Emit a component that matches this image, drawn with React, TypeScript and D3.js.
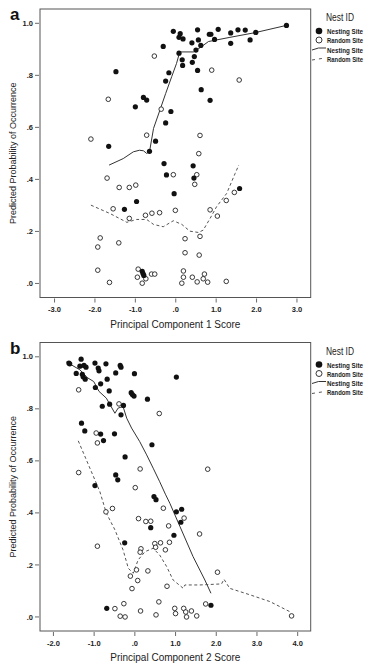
import React from "react";
import * as d3 from "d3";

type P = [number, number];

// Panel a data
const aNest: P[] = [[-0.06,0.969],[0.11,0.96],[0.08,0.946],[0.18,0.94],[-0.31,0.911],[0.08,0.885],[0.16,0.86],[0.17,0.838],[-1.48,0.814],[-0.17,0.81],[-0.25,0.778],[-0.80,0.715],[-0.72,0.705],[-1.0,0.679],[-0.12,0.661],[-0.25,0.617],[-0.50,0.547],[-1.66,0.527],[-0.65,0.508],[-0.29,0.461],[0.54,0.975],[0.40,0.925],[0.56,0.936],[0.62,0.915],[0.50,0.897],[0.83,0.958],[0.87,0.958],[1.05,0.977],[0.96,0.938],[1.36,0.963],[1.54,0.975],[1.72,0.974],[1.98,0.965],[1.36,0.923],[1.84,0.936],[2.74,0.992],[0.46,0.872],[0.41,0.85],[0.54,0.819],[0.63,0.745],[0.85,0.704],[0.43,0.452],[-0.23,0.417],[0.45,0.405],[-0.04,0.345],[-0.97,0.315],[-1.27,0.285],[1.58,0.365],[-0.83,0.047],[-0.81,0.038],[-0.79,0.031]];
const aRandom: P[] = [[-0.53,0.874],[-1.67,0.708],[-0.36,0.670],[-0.72,0.570],[-2.1,0.555],[0.89,0.82],[1.57,0.782],[0.60,0.569],[0.57,0.499],[-0.06,0.418],[-1.70,0.405],[-1.40,0.369],[-1.15,0.369],[-0.99,0.378],[-1.55,0.287],[-1.15,0.25],[-0.75,0.262],[-0.59,0.27],[-0.40,0.272],[-0.01,0.281],[-1.87,0.175],[-1.93,0.14],[-1.41,0.156],[0.23,0.172],[0.23,0.118],[-1.93,0.051],[-1.64,0.004],[-0.93,0.055],[-0.95,0.024],[-0.74,0.018],[-0.83,0.001],[-0.60,0.036],[-0.52,0.036],[0.19,0.048],[0.19,0.024],[0.15,0.001],[0.52,0.418],[0.47,0.381],[1.45,0.35],[1.25,0.319],[0.85,0.283],[1.03,0.259],[0.60,0.181],[0.58,0.109],[0.41,0.024],[0.53,0.006],[0.71,0.036],[0.68,0.018],[0.79,0.005],[1.25,0.008]];
const aNestFit: P[] = [[-1.65,0.455],[-1.3,0.48],[-1.05,0.506],[-0.9,0.512],[-0.80,0.51],[-0.72,0.50],[-0.65,0.506],[-0.55,0.596],[-0.39,0.667],[-0.25,0.73],[-0.10,0.795],[0.02,0.846],[0.09,0.885],[0.11,0.89],[0.44,0.89],[0.60,0.906],[0.81,0.93],[1.34,0.946],[1.96,0.964],[2.74,0.992]];
const aRandomFit: P[] = [[-2.10,0.301],[-1.63,0.269],[-1.21,0.235],[-0.97,0.246],[-0.72,0.246],[-0.55,0.227],[-0.31,0.218],[-0.06,0.241],[0.15,0.227],[0.35,0.201],[0.56,0.196],[0.68,0.205],[0.85,0.25],[1.01,0.295],[1.26,0.346],[1.47,0.423],[1.56,0.455]];
const aXTicks = [-3, -2, -1, 0, 1, 2, 3];

// Panel b data
const bNest: P[] = [[-1.62,0.976],[-1.60,0.973],[-1.32,0.991],[-1.35,0.964],[-1.25,0.967],[-1.20,0.96],[-1.44,0.936],[-1.29,0.933],[-1.27,0.923],[-1.22,0.914],[-0.98,0.976],[-0.90,0.957],[-0.88,0.946],[-0.71,0.973],[-0.36,0.967],[-0.34,0.96],[-0.68,0.914],[-0.84,0.896],[-0.47,0.938],[-0.01,0.935],[-0.97,0.882],[-0.63,0.869],[-0.09,0.862],[-0.06,0.855],[-0.02,0.849],[0.31,0.837],[1.02,0.922],[-0.80,0.81],[-0.62,0.818],[-0.28,0.813],[-0.34,0.777],[-1.31,0.745],[-1.23,0.715],[-0.84,0.703],[-0.77,0.678],[-0.50,0.704],[0.42,0.662],[-0.24,0.615],[-0.47,0.546],[-0.42,0.527],[-0.98,0.505],[0.47,0.463],[0.52,0.451],[1.02,0.404],[1.15,0.414],[1.13,0.364],[0.39,0.343],[0.96,0.314],[-0.25,0.285],[-0.69,0.033],[1.87,0.045]];
const bRandom: P[] = [[-1.38,0.873],[-0.39,0.819],[0.60,0.782],[-0.95,0.707],[-0.92,0.669],[-1.38,0.555],[0.13,0.569],[0.01,0.497],[1.79,0.568],[0.70,0.418],[1.21,0.38],[-0.71,0.404],[-0.55,0.417],[0.09,0.378],[0.27,0.367],[0.39,0.368],[0.83,0.35],[-0.92,0.272],[0.49,0.282],[0.51,0.268],[0.63,0.285],[0.85,0.287],[0.75,0.258],[0.15,0.262],[0.13,0.249],[0.04,0.181],[0.32,0.177],[-0.11,0.157],[0.07,0.14],[-0.07,0.109],[0.79,0.118],[1.59,0.319],[2.03,0.172],[-0.49,0.032],[-0.27,0.051],[-0.36,0.003],[-0.24,0.0],[0.14,0.023],[0.59,0.058],[0.52,0.008],[0.98,0.033],[1.0,0.013],[1.20,0.033],[1.25,0.019],[1.27,0.0],[1.39,0.023],[1.52,0.004],[1.74,0.05],[3.85,0.004]];
const bNestFit: P[] = [[-1.68,0.98],[-1.35,0.95],[-1.17,0.92],[-1.01,0.905],[-0.88,0.867],[-0.70,0.841],[-0.49,0.783],[-0.41,0.803],[-0.29,0.809],[-0.20,0.764],[-0.08,0.726],[0.12,0.674],[0.29,0.623],[0.45,0.572],[0.61,0.52],[0.75,0.472],[0.86,0.437],[1.11,0.347],[1.43,0.232],[1.72,0.142],[1.87,0.091]];
const bRandomFit: P[] = [[-1.39,0.677],[-0.86,0.482],[-0.70,0.399],[-0.49,0.335],[-0.29,0.258],[-0.16,0.187],[-0.04,0.168],[0.08,0.219],[0.25,0.251],[0.45,0.264],[0.61,0.238],[0.78,0.194],[0.94,0.142],[1.19,0.11],[1.23,0.123],[1.60,0.123],[2.13,0.127],[2.19,0.145],[2.33,0.11],[2.83,0.085],[3.32,0.059],[3.81,0.02]];
const bXTicks = [-2, -1, 0, 1, 2, 3, 4];

const yTicks = [0, 0.2, 0.4, 0.6, 0.8, 1.0];
const legendLabels = ["Nesting Site", "Random Site", "Nesting Site", "Random Site"];

const FONT = "'Liberation Sans', Arial, Helvetica, sans-serif";
const fmt = (v: number) => {
  if (Math.abs(v) < 1e-9) return ".0";
  const s = v.toFixed(1);
  return s.startsWith("0") ? s.slice(1) : s;
};

interface PanelProps {
  letter: string;
  top: number;
  xDomain: [number, number];
  xTicks: number[];
  xTitle: string;
  nest: P[];
  random: P[];
  nestFit: P[];
  randomFit: P[];
}

function Panel({ letter, top, xDomain, xTicks, xTitle, nest, random, nestFit, randomFit }: PanelProps) {
  const left = 40, right = 310.7;
  const plotTop = top, plotBottom = top + 288.5;
  const x = d3.scaleLinear().domain(xDomain).range([left, right]);
  const y = d3.scaleLinear().domain([-0.054, 1.055]).range([plotBottom, plotTop]);
  const line = d3.line<P>().x((d) => x(d[0])).y((d) => y(d[1]));
  const lx = 312;
  const ly = top;
  return (
    <g>
      <text x={10} y={top + 11} fontFamily={FONT} fontWeight="bold" fontSize={17} fill="#111">{letter}</text>
      <rect x={left} y={plotTop} width={right - left} height={plotBottom - plotTop} fill="#fff" stroke="#555" strokeWidth={1} />
      {yTicks.map((t) => (
        <g key={"y" + t}>
          <line x1={35} x2={39} y1={y(t)} y2={y(t)} stroke="#444" strokeWidth={0.8} />
          <text x={33} y={y(t) + 2.6} textAnchor="end" fontFamily={FONT} fontWeight="bold" fontSize={7.5} fill="#222">{fmt(t)}</text>
        </g>
      ))}
      {xTicks.map((t) => (
        <g key={"x" + t}>
          <line x1={x(t)} x2={x(t)} y1={plotBottom + 1} y2={plotBottom + 5} stroke="#444" strokeWidth={0.8} />
          <text x={x(t)} y={plotBottom + 14.5} textAnchor="middle" fontFamily={FONT} fontWeight="bold" fontSize={7.5} fill="#222">{fmt(t)}</text>
        </g>
      ))}
      <text x={(left + right) / 2} y={plotBottom + 30} textAnchor="middle" fontFamily={FONT} fontSize={10} fill="#222">{xTitle}</text>
      <text transform={`translate(16,${(plotTop + plotBottom) / 2}) rotate(-90)`} textAnchor="middle" fontFamily={FONT} fontSize={9} fill="#222">Predicted Probability of Occurrence</text>
      <path d={line(nestFit) || ""} fill="none" stroke="#333" strokeWidth={1} />
      <path d={line(randomFit) || ""} fill="none" stroke="#555" strokeWidth={1} strokeDasharray="3,2.5" />
      {random.map((d, i) => (
        <circle key={"r" + i} cx={x(d[0])} cy={y(d[1])} r={2.3} fill="#fff" stroke="#222" strokeWidth={0.9} />
      ))}
      {nest.map((d, i) => (
        <circle key={"n" + i} cx={x(d[0])} cy={y(d[1])} r={2.6} fill="#111" />
      ))}
      <text x={326} y={ly + 12} fontFamily={FONT} fontSize={10} fill="#222" textLength={28} lengthAdjust="spacingAndGlyphs">Nest ID</text>
      <circle cx={319} cy={ly + 22} r={3.3} fill="#111" />
      <circle cx={319} cy={ly + 31} r={3} fill="#fff" stroke="#222" strokeWidth={0.9} />
      <path d={`M${lx},${ly + 41} Q${lx + 6},${ly + 38} ${lx + 14},${ly + 39}`} fill="none" stroke="#333" strokeWidth={1} />
      <path d={`M${lx},${ly + 51} L${lx + 13},${ly + 49}`} fill="none" stroke="#555" strokeWidth={1} strokeDasharray="3,4" />
      {legendLabels.map((lab, i) => (
        <text key={"l" + i} x={327} y={ly + 25 + i * 9.3} fontFamily={FONT} fontWeight="bold" fontSize={7.5} fill="#222" textLength={36} lengthAdjust="spacingAndGlyphs">{lab}</text>
      ))}
    </g>
  );
}

export default function App() {
  return (
    <svg width={373} height={668} style={{ position: "absolute", left: 0, top: 0, background: "#fff" }}>
      <rect x={0} y={0} width={373} height={668} fill="#fff" />
      <Panel letter="a" top={9} xDomain={[-3.36, 3.34]} xTicks={aXTicks} xTitle="Principal Component 1 Score"
        nest={aNest} random={aRandom} nestFit={aNestFit} randomFit={aRandomFit} />
      <Panel letter="b" top={342.5} xDomain={[-2.33, 4.32]} xTicks={bXTicks} xTitle="Principal Component 2 Score"
        nest={bNest} random={bRandom} nestFit={bNestFit} randomFit={bRandomFit} />
    </svg>
  );
}
